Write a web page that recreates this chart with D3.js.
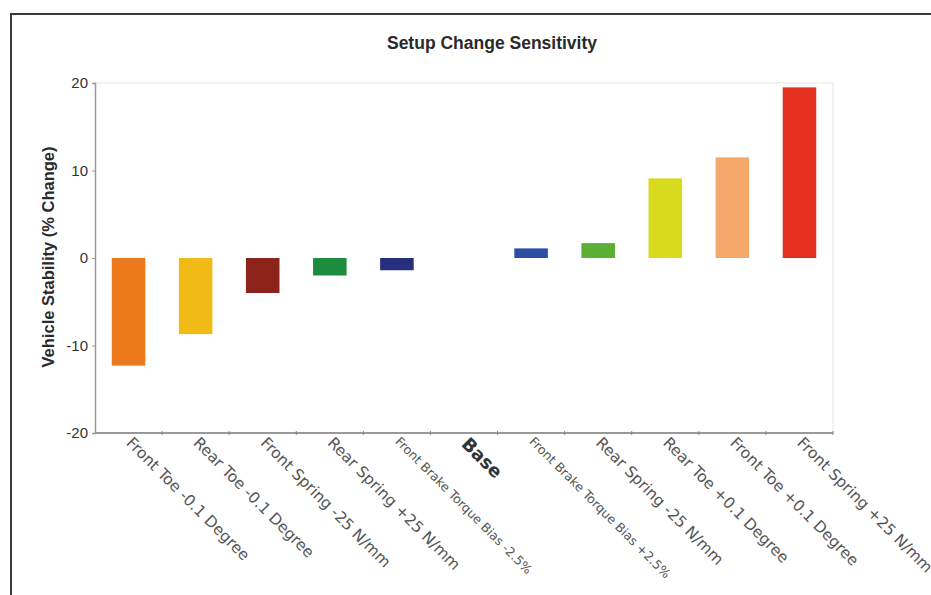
<!DOCTYPE html>
<html>
<head>
<meta charset="utf-8">
<script src="https://cdn.jsdelivr.net/npm/d3@7"></script>
<style>
  html, body { margin: 0; padding: 0; background: #fff; }
  svg { display: block; }
</style>
</head>
<body>
<svg id="chart" width="931" height="595"></svg>
<script>
// Setup changes, in display order
const categories = [
  "Front Toe -0.1 Degree",
  "Rear Toe -0.1 Degree",
  "Front Spring -25 N/mm",
  "Rear Spring +25 N/mm",
  "Front Brake Torque Bias -2.5%",
  "Base",
  "Front Brake Torque Bias +2.5%",
  "Rear Spring -25 N/mm",
  "Rear Toe +0.1 Degree",
  "Front Toe +0.1 Degree",
  "Front Spring +25 N/mm"
];

// Change in vehicle stability (%) for each setup change
const stability = [-12.3, -8.7, -4.0, -2.0, -1.4, 0, 1.1, 1.7, 9.1, 11.5, 19.5];

// Bar colour per setup change
const barColors = [
  "#ec7a1c", "#f2ba16", "#8c241b", "#1e8c3e", "#262f7c", "#ffffff",
  "#2b4ea5", "#5baf35", "#d9d91e", "#f4a86a", "#e3301f"
];

const yTicks = [-20, -10, 0, 10, 20];

const svg = d3.select("#chart");

// Outer frame
svg.append("rect")
  .attr("x", 11).attr("y", 14)
  .attr("width", 940).attr("height", 600)
  .attr("fill", "none")
  .attr("stroke", "#3a3a3a")
  .attr("stroke-width", 2);

const plot = { left: 95, right: 833, top: 83, bottom: 433 };

const x = d3.scaleBand()
  .domain(categories)
  .range([plot.left, plot.right])
  .paddingInner(0)
  .paddingOuter(0);

const y = d3.scaleLinear()
  .domain([-20, 20])
  .range([plot.bottom, plot.top]);

// Faint plot-area border (top and right)
svg.append("path")
  .attr("d", `M${plot.left},${plot.top}H${plot.right}V${plot.bottom}`)
  .attr("fill", "none")
  .attr("stroke", "#eeeeee")
  .attr("stroke-width", 1.5);

// Title
svg.append("text")
  .attr("x", 492).attr("y", 49)
  .attr("text-anchor", "middle")
  .attr("font-family", "Liberation Sans, Arial, sans-serif")
  .attr("font-weight", "bold")
  .attr("font-size", 17.5)
  .attr("fill", "#2a2a2a")
  .text("Setup Change Sensitivity");

// Y axis title
svg.append("text")
  .attr("transform", `translate(54,257) rotate(-90)`)
  .attr("text-anchor", "middle")
  .attr("font-family", "Liberation Sans, Arial, sans-serif")
  .attr("font-weight", "bold")
  .attr("font-size", 16.5)
  .attr("fill", "#2a2a2a")
  .text("Vehicle Stability (% Change)");

// Bars
const barW = x.bandwidth() * 0.5;
svg.append("g")
  .selectAll("rect")
  .data(categories.map((c, i) => ({ c, v: stability[i], col: barColors[i] })))
  .join("rect")
  .filter(d => d.v !== 0)
  .attr("x", d => x(d.c) + (x.bandwidth() - barW) / 2)
  .attr("y", d => y(Math.max(0, d.v)))
  .attr("width", barW)
  .attr("height", d => Math.abs(y(d.v) - y(0)))
  .attr("fill", d => d.col);

// Y axis
const yAxis = svg.append("g")
  .attr("transform", `translate(${plot.left},0)`)
  .call(d3.axisLeft(y).tickValues(yTicks).tickSize(3).tickPadding(4).tickFormat(d => String(d)));
yAxis.select(".domain").attr("stroke", "#999").attr("stroke-width", 1.5);
yAxis.selectAll(".tick line").attr("stroke", "#999");
yAxis.selectAll(".tick text")
  .attr("font-family", "Liberation Sans, Arial, sans-serif")
  .attr("font-size", 15)
  .attr("fill", "#333");

// X axis line with ticks at band boundaries
const xAxis = svg.append("g");
xAxis.append("line")
  .attr("x1", plot.left).attr("x2", plot.right)
  .attr("y1", plot.bottom).attr("y2", plot.bottom)
  .attr("stroke", "#999").attr("stroke-width", 2);
xAxis.selectAll("line.tick")
  .data(categories.slice(1).concat(["__end"]))
  .join("line")
  .attr("class", "tick")
  .attr("x1", d => d === "__end" ? plot.right : x(d))
  .attr("x2", d => d === "__end" ? plot.right : x(d))
  .attr("y1", plot.bottom - 2).attr("y2", plot.bottom + 2)
  .attr("stroke", "#888");

// Rotated category labels
function labelStyle(c) {
  if (c === "Base") return { size: 18, weight: "bold", fill: "#333" };
  if (c.startsWith("Front Brake")) return { size: 12.5, weight: "normal", fill: "#555" };
  return { size: 15.5, weight: "normal", fill: "#555" };
}
xAxis.selectAll("text.cat")
  .data(categories)
  .join("text")
  .attr("class", "cat")
  .each(function (c) {
    const s = labelStyle(c);
    const cx = x(c) + x.bandwidth() / 2;
    const off = s.size * 0.5;
    d3.select(this)
      .attr("transform", `translate(${cx - off * 0.4},${plot.bottom + 3 + off}) rotate(45)`)
      .attr("font-family", "DejaVu Sans, Verdana, sans-serif")
      .attr("font-size", s.size)
      .attr("font-weight", s.weight)
      .attr("fill", s.fill)
      .text(c);
  });
</script>
</body>
</html>
